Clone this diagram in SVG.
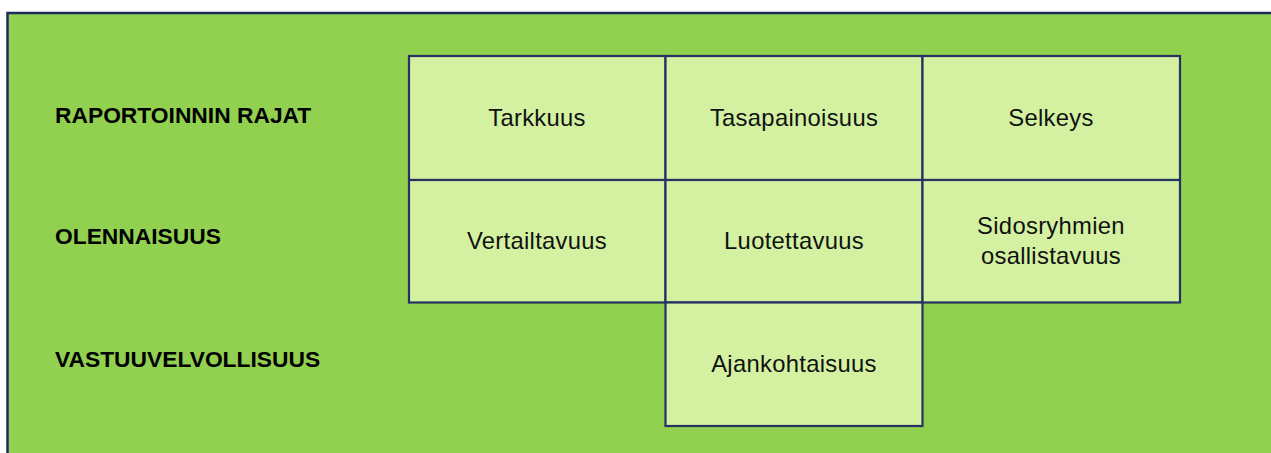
<svg xmlns="http://www.w3.org/2000/svg" width="1271" height="453" viewBox="0 0 1271 453">
  <style>
    .frame { fill: #92d050; stroke: #1f2a5c; stroke-width: 2.5; }
    .cell { fill: #d3f1a1; stroke: #263262; stroke-width: 2.2; }
    .txt { font-family: "Liberation Sans", Arial, sans-serif; font-size: 23.8px; letter-spacing: 0.3px; fill: #111; text-anchor: middle; }
    .lbl { font-family: "Liberation Sans", Arial, sans-serif; font-size: 22.8px; font-weight: bold; fill: #000; }
  </style>
  <rect width="1271" height="453" fill="#ffffff"/>
  <!-- background panel, running off the right and bottom edges -->
  <rect class="frame" x="7.5" y="13" width="1300" height="480"/>

  <!-- row labels -->
  <g id="labels">
    <text class="lbl" x="55" y="123">RAPORTOINNIN RAJAT</text>
    <text class="lbl" x="55" y="243.5">OLENNAISUUS</text>
    <text class="lbl" x="55" y="366.5">VASTUUVELVOLLISUUS</text>
  </g>

  <!-- grid cells -->
  <g id="tarkkuus">
    <rect class="cell" x="409" y="56" width="256.5" height="124"/>
    <text class="txt" x="537" y="126">Tarkkuus</text>
  </g>
  <g id="tasapainoisuus">
    <rect class="cell" x="665.5" y="56" width="257" height="124"/>
    <text class="txt" x="794" y="126">Tasapainoisuus</text>
  </g>
  <g id="selkeys">
    <rect class="cell" x="922.5" y="56" width="257.5" height="124"/>
    <text class="txt" x="1051" y="126">Selkeys</text>
  </g>
  <g id="vertailtavuus">
    <rect class="cell" x="409" y="180" width="256.5" height="122.5"/>
    <text class="txt" x="537" y="249">Vertailtavuus</text>
  </g>
  <g id="luotettavuus">
    <rect class="cell" x="665.5" y="180" width="257" height="122.5"/>
    <text class="txt" x="794" y="249">Luotettavuus</text>
  </g>
  <g id="sidosryhmien">
    <rect class="cell" x="922.5" y="180" width="257.5" height="122.5"/>
    <text class="txt" x="1051" y="234">Sidosryhmien</text>
    <text class="txt" x="1051" y="264">osallistavuus</text>
  </g>
  <g id="ajankohtaisuus">
    <rect class="cell" x="665.5" y="302.5" width="257" height="123.5"/>
    <text class="txt" x="794" y="372">Ajankohtaisuus</text>
  </g>

  <!-- no connectors in this layout -->
  <g id="connectors"/>
</svg>
